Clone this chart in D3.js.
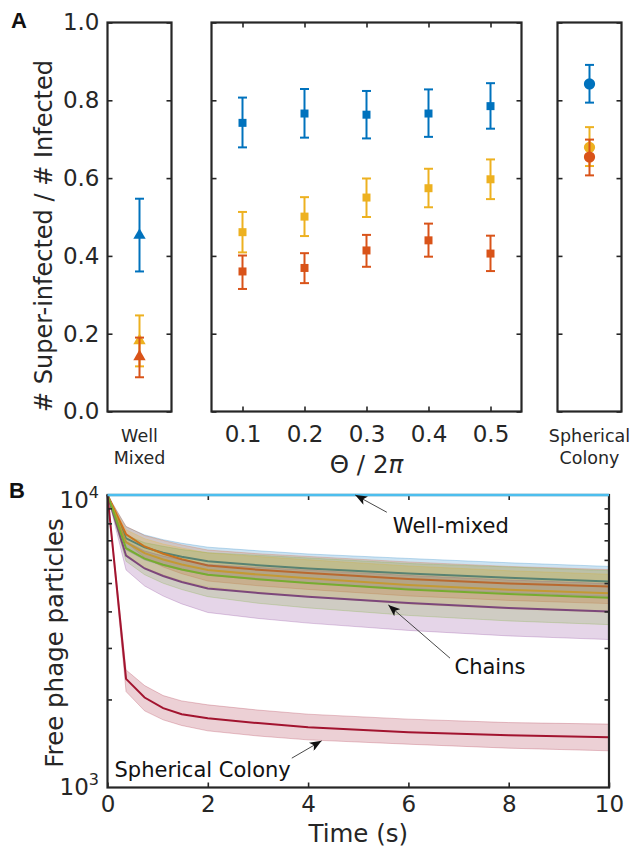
<!DOCTYPE html>
<html>
<head>
<meta charset="utf-8">
<script src="https://cdn.jsdelivr.net/npm/d3@7"></script>
<style>
  body { margin: 0; background: #fff; }
  text { font-family: "DejaVu Sans", sans-serif; }
  text.panel { font-family: "Liberation Sans", Arial, sans-serif; font-weight: bold; font-size: 22px; }
</style>
</head>
<body>
<svg id="chart" width="633" height="848"></svg>
<script>
// ---------- panel A data (fraction super-infected) ----------
const thetaVals = [0.1, 0.2, 0.3, 0.4, 0.5];
const yTicksA = [0, 0.2, 0.4, 0.6, 0.8, 1.0];

// [mean, low, high]
const wellBlue   = [0.453, 0.360, 0.547];
const wellYellow = [0.182, 0.116, 0.247];
const wellRed    = [0.141, 0.088, 0.190];

const thetaBlueMean   = [0.742, 0.766, 0.763, 0.766, 0.785];
const thetaBlueLo     = [0.679, 0.704, 0.702, 0.706, 0.727];
const thetaBlueHi     = [0.807, 0.829, 0.824, 0.828, 0.844];
const thetaYellowMean = [0.461, 0.501, 0.550, 0.574, 0.597];
const thetaYellowLo   = [0.409, 0.451, 0.500, 0.525, 0.546];
const thetaYellowHi   = [0.513, 0.551, 0.599, 0.624, 0.648];
const thetaRedMean    = [0.360, 0.369, 0.414, 0.440, 0.406];
const thetaRedLo      = [0.315, 0.330, 0.372, 0.398, 0.361];
const thetaRedHi      = [0.401, 0.407, 0.454, 0.483, 0.452];

const sphBlue   = [0.842, 0.794, 0.891];
const sphYellow = [0.679, 0.631, 0.731];
const sphRed    = [0.654, 0.607, 0.699];

// ---------- panel B data (free phage particles vs time) ----------
const tB = [0, 0.37, 0.74, 1.11, 1.48, 2, 3, 4, 6, 8, 10];
const xTicksB = [0, 2, 4, 6, 8, 10];
const yMinorB = [2000, 3000, 4000, 5000, 6000, 7000, 8000, 9000];

const wellMixedB = [10000, 10000, 10000, 10000, 10000, 10000, 10000, 10000, 10000, 10000, 10000];

const chainBlue     = [10000, 7112, 6620, 6350, 6150, 5940, 5752, 5609, 5393, 5214, 5065];
const chainBlueHi   = [10000, 7785, 7305, 7035, 6839, 6632, 6447, 6287, 6069, 5867, 5700];
const chainBlueLo   = [10000, 6497, 6000, 5732, 5530, 5320, 5132, 5004, 4793, 4633, 4501];
const chainOrange   = [10000, 7339, 6668, 6300, 6028, 5740, 5553, 5414, 5164, 4986, 4862];
const chainOrangeHi = [10000, 7816, 7268, 6993, 6751, 6484, 6298, 6165, 5903, 5700, 5558];
const chainOrangeLo = [10000, 6891, 6117, 5676, 5382, 5081, 4896, 4755, 4518, 4362, 4253];
const chainYellow   = [10000, 6891, 6326, 6016, 5787, 5545, 5346, 5193, 4927, 4744, 4615];
const chainYellowHi = [10000, 7604, 7091, 6796, 6590, 6339, 6160, 6007, 5721, 5509, 5359];
const chainYellowLo = [10000, 6245, 5644, 5325, 5082, 4851, 4640, 4490, 4243, 4085, 3974];
const chainPurple   = [10000, 6202, 5609, 5284, 5044, 4790, 4626, 4493, 4276, 4111, 3995];
const chainPurpleHi = [10000, 6941, 6437, 6185, 5997, 5785, 5654, 5535, 5309, 5124, 4979];
const chainPurpleLo = [10000, 5542, 4887, 4514, 4243, 3966, 3785, 3648, 3444, 3298, 3205];
const chainGreen    = [10000, 6576, 6057, 5773, 5562, 5340, 5152, 5006, 4755, 4589, 4457];
const chainGreenHi  = [10000, 7285, 6870, 6678, 6510, 6349, 6223, 6094, 5834, 5675, 5512];
const chainGreenLo  = [10000, 5936, 5340, 4991, 4752, 4492, 4266, 4112, 3875, 3711, 3604];

const sphericalB   = [10000, 2352, 2030, 1867, 1781, 1725, 1660, 1608, 1545, 1510, 1486];
const sphericalHi  = [10000, 2523, 2231, 2062, 1977, 1917, 1840, 1781, 1713, 1667, 1647];
const sphericalLo  = [10000, 2128, 1828, 1703, 1629, 1562, 1500, 1455, 1406, 1363, 1335];

// annotation anchors in data units: [time, particles]
const notes = [
  { label: "Well-mixed",       head: [4.94, 10000], tail: [5.57, 8730], text: [5.69, 7400] },
  { label: "Chains",           head: [5.60, 4210],  tail: [6.83, 2768], text: [6.92, 2440] },
  { label: "Spherical Colony", head: [4.27, 1444],  tail: [3.675, 1260], text: [0.14, 1090] }
];

// ---------- drawing ----------
const svg = d3.select("#chart");
const axisColor = "#262626";
const blue = "#0072BD", orange = "#D95319", yellow = "#EDB120",
      purple = "#7E2F8E", green = "#77AC30", lightBlue = "#4DBEEE", darkRed = "#A2142F";

svg.append("rect").attr("width", 633).attr("height", 848).attr("fill", "#fff");

function styleAxis(g, size) {
  g.select(".domain").remove();
  g.selectAll(".tick line").attr("stroke", axisColor).attr("stroke-width", 1.6);
  g.selectAll(".tick text").attr("fill", axisColor).attr("font-size", size);
}

function box(x0, x1, y0, y1) {
  svg.append("rect")
    .attr("x", x0).attr("y", y0)
    .attr("width", x1 - x0).attr("height", y1 - y0)
    .attr("fill", "none")
    .attr("stroke", axisColor)
    .attr("stroke-width", 2.2);
}

// panel A scales
const yA = d3.scaleLinear().domain([0, 1]).range([411.5, 22.5]);
const xWell = d3.scaleBand().domain(["Well Mixed"]).range([107.5, 171.5]);
const xTheta = d3.scaleLinear().domain([0.05, 0.55]).range([211.5, 521.5]);
const xSph = d3.scaleBand().domain(["Spherical Colony"]).range([557.5, 621.5]);

function yTicks(x0, x1, labels) {
  const left = svg.append("g").attr("transform", `translate(${x0},0)`)
    .call(labels
      ? d3.axisLeft(yA).tickValues(yTicksA).tickFormat(d3.format(".1f")).tickSizeInner(-5).tickSizeOuter(0).tickPadding(8)
      : d3.axisRight(yA).tickValues(yTicksA).tickFormat("").tickSizeInner(5).tickSizeOuter(0));
  styleAxis(left, 23);
  const right = svg.append("g").attr("transform", `translate(${x1},0)`)
    .call(d3.axisLeft(yA).tickValues(yTicksA).tickFormat("").tickSizeInner(5).tickSizeOuter(0));
  styleAxis(right, 23);
}

function errorPoint(g, x, vals, colour, symbol, size) {
  const [m, lo, hi] = vals;
  g.append("line")
    .attr("x1", x).attr("x2", x)
    .attr("y1", yA(lo)).attr("y2", yA(hi))
    .attr("stroke", colour).attr("stroke-width", 2);
  [lo, hi].forEach(v => {
    g.append("line")
      .attr("x1", x - 4.5).attr("x2", x + 4.5)
      .attr("y1", yA(v)).attr("y2", yA(v))
      .attr("stroke", colour).attr("stroke-width", 2);
  });
  g.append("path")
    .attr("transform", `translate(${x},${yA(m)})`)
    .attr("d", d3.symbol(symbol, size)())
    .attr("fill", colour);
}

const gA = svg.append("g");

// well mixed
const xw = xWell("Well Mixed") + xWell.bandwidth() / 2;
[[wellBlue, blue], [wellYellow, yellow], [wellRed, orange]].forEach(([v, c]) =>
  errorPoint(gA, xw, v, c, d3.symbolTriangle, 66));

// chains over theta
[[thetaBlueMean, thetaBlueLo, thetaBlueHi, blue],
 [thetaYellowMean, thetaYellowLo, thetaYellowHi, yellow],
 [thetaRedMean, thetaRedLo, thetaRedHi, orange]].forEach(([m, lo, hi, c]) => {
  thetaVals.forEach((th, i) =>
    errorPoint(gA, xTheta(th), [m[i], lo[i], hi[i]], c, d3.symbolSquare, 64));
});

// spherical colony
const xs = xSph("Spherical Colony") + xSph.bandwidth() / 2;
[[sphBlue, blue], [sphYellow, yellow], [sphRed, orange]].forEach(([v, c]) =>
  errorPoint(gA, xs, v, c, d3.symbolCircle, 100));

yTicks(107.5, 171.5, true);
yTicks(211.5, 521.5, false);
yTicks(557.5, 621.5, false);

const xAxA = svg.append("g").attr("transform", "translate(0,411.5)")
  .call(d3.axisBottom(xTheta).tickValues(thetaVals).tickFormat(d3.format(".1f"))
    .tickSizeInner(-5).tickSizeOuter(0).tickPadding(14));
styleAxis(xAxA, 23);
const xAxATop = svg.append("g").attr("transform", "translate(0,22.5)")
  .call(d3.axisTop(xTheta).tickValues(thetaVals).tickFormat("").tickSizeInner(-5).tickSizeOuter(0));
styleAxis(xAxATop, 23);

box(107.5, 171.5, 22.5, 411.5);
box(211.5, 521.5, 22.5, 411.5);
box(557.5, 621.5, 22.5, 411.5);

// category labels
[["Well", "Mixed", xw], ["Spherical", "Colony", xs]].forEach(([a, b, x]) => {
  const t = svg.append("text").attr("text-anchor", "middle").attr("font-size", 17.5).attr("fill", axisColor);
  t.append("tspan").attr("x", x).attr("y", 442).text(a);
  t.append("tspan").attr("x", x).attr("y", 464).text(b);
});

const thetaLabel = svg.append("text")
  .attr("x", (211.5 + 521.5) / 2).attr("y", 472.5)
  .attr("text-anchor", "middle").attr("font-size", 24.5).attr("fill", axisColor);
thetaLabel.append("tspan").text("Θ / 2");
thetaLabel.append("tspan").attr("font-style", "italic").text("π");

svg.append("text")
  .attr("transform", "translate(52,236) rotate(-90)")
  .attr("text-anchor", "middle").attr("font-size", 24).attr("fill", axisColor)
  .text("# Super-infected / # Infected");

svg.append("text").attr("class", "panel").attr("x", 11).attr("y", 28)
  .attr("fill", "#111").text("A");

// ---------- panel B ----------
const xB = d3.scaleLinear().domain([0, 10]).range([107.5, 609]);
const yB = d3.scaleLog().domain([1000, 10000]).range([787.5, 495]);

const gB = svg.append("g");
const line = d3.line().x((d, i) => xB(tB[i])).y(d => yB(d));
const area = d3.area().x((d, i) => xB(tB[i])).y0(d => yB(d[0])).y1(d => yB(d[1]));

const chains = [
  [chainBlue, chainBlueLo, chainBlueHi, blue],
  [chainOrange, chainOrangeLo, chainOrangeHi, orange],
  [chainYellow, chainYellowLo, chainYellowHi, yellow],
  [chainPurple, chainPurpleLo, chainPurpleHi, purple],
  [chainGreen, chainGreenLo, chainGreenHi, green],
  [sphericalB, sphericalLo, sphericalHi, darkRed]
];

// each series: band then its mean line, so later bands tint earlier lines
chains.forEach(([m, lo, hi, c]) => {
  gB.append("path").attr("d", area(lo.map((v, i) => [v, hi[i]])))
    .attr("fill", c).attr("fill-opacity", 0.2)
    .attr("stroke", c).attr("stroke-opacity", 0.3).attr("stroke-width", 0.8);
  gB.append("path").attr("d", line(m))
    .attr("fill", "none").attr("stroke", c).attr("stroke-width", 2);
});

const xAxB = svg.append("g").attr("transform", "translate(0,787.5)")
  .call(d3.axisBottom(xB).tickValues(xTicksB).tickFormat(d3.format("d"))
    .tickSizeInner(-5).tickSizeOuter(0).tickPadding(8));
styleAxis(xAxB, 23);
const xAxBTop = svg.append("g").attr("transform", "translate(0,495)")
  .call(d3.axisTop(xB).tickValues(xTicksB.slice(1, -1)).tickFormat("").tickSizeInner(-5).tickSizeOuter(0));
styleAxis(xAxBTop, 23);
const yAxBL = svg.append("g").attr("transform", "translate(107.5,0)")
  .call(d3.axisRight(yB).tickValues(yMinorB).tickFormat("").tickSizeInner(4.5).tickSizeOuter(0));
styleAxis(yAxBL, 23);
const yAxBR = svg.append("g").attr("transform", "translate(609,0)")
  .call(d3.axisLeft(yB).tickValues(yMinorB).tickFormat("").tickSizeInner(4.5).tickSizeOuter(0));
styleAxis(yAxBR, 23);

[[10000, "4", 12.5], [1000, "3", 7.5]].forEach(([v, e, off]) => {
  const t = svg.append("text").attr("x", 99).attr("y", yB(v) + off)
    .attr("text-anchor", "end").attr("font-size", 23).attr("fill", axisColor);
  t.append("tspan").text("10");
  t.append("tspan").attr("dy", -10).attr("font-size", 16).text(e);
});

box(107.5, 609, 495, 787.5);

// well-mixed flat line sits on the top edge
svg.append("path").attr("d", line(wellMixedB))
  .attr("fill", "none").attr("stroke", lightBlue).attr("stroke-width", 2.5);

svg.append("text")
  .attr("x", (107.5 + 609) / 2).attr("y", 842)
  .attr("text-anchor", "middle").attr("font-size", 24.5).attr("fill", axisColor)
  .text("Time (s)");

svg.append("text")
  .attr("transform", "translate(63,643) rotate(-90)")
  .attr("text-anchor", "middle").attr("font-size", 24.5).attr("fill", axisColor)
  .text("Free phage particles");

svg.append("text").attr("class", "panel").attr("x", 9).attr("y", 498)
  .attr("fill", "#111").text("B");

// annotations
svg.append("defs").append("marker")
  .attr("id", "arrow")
  .attr("viewBox", "0 0 10 8")
  .attr("refX", 10).attr("refY", 4)
  .attr("markerWidth", 12).attr("markerHeight", 9.5)
  .attr("markerUnits", "userSpaceOnUse")
  .attr("orient", "auto")
  .append("path").attr("d", "M0,0 L10,4 L0,8 L2.5,4 Z").attr("fill", "#111");

notes.forEach(n => {
  svg.append("line")
    .attr("x1", xB(n.tail[0])).attr("y1", yB(n.tail[1]))
    .attr("x2", xB(n.head[0])).attr("y2", yB(n.head[1]))
    .attr("stroke", "#333").attr("stroke-width", 0.9)
    .attr("marker-end", "url(#arrow)");
  svg.append("text")
    .attr("x", xB(n.text[0])).attr("y", yB(n.text[1]))
    .attr("font-size", 21).attr("fill", "#111")
    .text(n.label);
});
</script>
</body>
</html>
